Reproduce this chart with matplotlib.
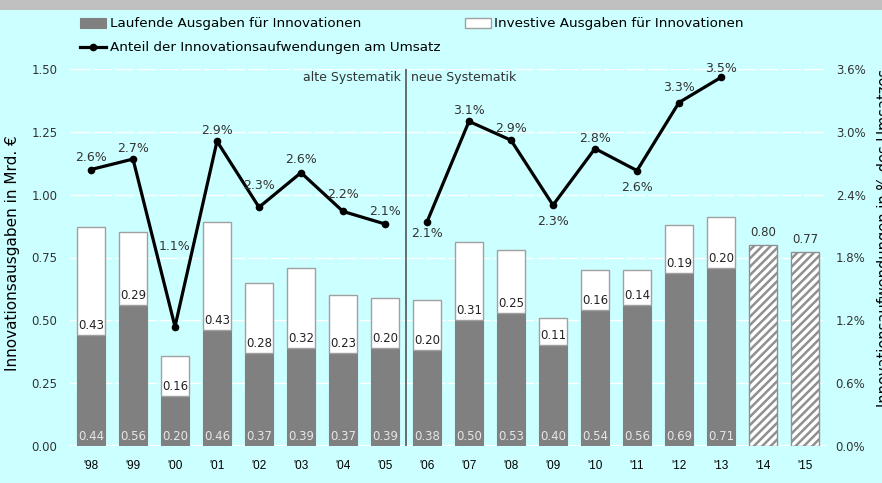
import matplotlib
matplotlib.use("Agg")
import matplotlib.pyplot as plt
from matplotlib.patches import Rectangle
from matplotlib.lines import Line2D
import numpy as np

# Daten
years = ["'98", "'99", "'00", "'01", "'02", "'03", "'04", "'05", "'06",
         "'07", "'08", "'09", "'10", "'11", "'12", "'13", "'14", "'15"]
laufend = [0.44, 0.56, 0.20, 0.46, 0.37, 0.39, 0.37, 0.39,
           0.38, 0.50, 0.53, 0.40, 0.54, 0.56, 0.69, 0.71]
investiv = [0.43, 0.29, 0.16, 0.43, 0.28, 0.32, 0.23, 0.20,
            0.20, 0.31, 0.25, 0.11, 0.16, 0.14, 0.19, 0.20]
plan = [0.80, 0.77]            # '14, '15 geplant (schraffiert)
anteil_alt = [2.64, 2.74, 1.14, 2.91, 2.28, 2.61, 2.24, 2.12]   # '98-'05
anteil_neu = [2.14, 3.10, 2.92, 2.30, 2.84, 2.63, 3.28, 3.52]   # '06-'13

# Beschriftungs-Versatz der %-Werte (Pixel, + = nach unten)
pct_offset = [-12, -11, -80, -11, -22, -13, -17, -12,
              12, -11, -12, 16, -10, 17, -15, -9]

W, H = 882, 483
BG = '#CCFFFF'
GREY = '#808080'
EDGE = '#A0A0A0'
TXT = '#333333'

plt.rcParams['font.family'] = ['DejaVu Sans']
plt.rcParams['hatch.linewidth'] = 1.8

def fx(x):
    return x / W

def fy(y):
    return 1 - y / H

fig = plt.figure(figsize=(W / 100, H / 100), dpi=100)
fig.patch.set_facecolor(BG)
fig.add_artist(Rectangle((0, fy(10)), 1, 10 / H, transform=fig.transFigure,
                         facecolor='#C0C0C0', edgecolor='none'))

ax = fig.add_axes([fx(70), 1 - 446 / H, 756 / W, 377 / H])
ax.set_facecolor(BG)
ax2 = ax.twinx()

n_hist = len(laufend)
x = np.arange(len(years))
xh = x[:n_hist]
bw = 0.69

ax.set_axisbelow(True)
ax.yaxis.grid(True, color='white', lw=1.0, dashes=(14, 2))
ax.bar(xh, laufend, bw, color=GREY, edgecolor=GREY, lw=0.8, zorder=2)
ax.bar(xh, investiv, bw, bottom=laufend, color='white', edgecolor=EDGE, lw=1.0, zorder=2)
ax.bar(x[n_hist:], plan, bw, color='white', edgecolor='#909090', hatch='////', lw=1.0, zorder=2)
ax.axhline(0, color='white', lw=1.5, zorder=1)

for i in range(n_hist):
    ax.text(xh[i], 0.012, f"{laufend[i]:.2f}", ha='center', va='bottom',
            fontsize=8.5, color='#E6E6E6', zorder=3)
    ax.text(xh[i], laufend[i] + 0.012, f"{investiv[i]:.2f}", ha='center', va='bottom',
            fontsize=8.5, color='#222222', zorder=3)
for j, v in enumerate(plan):
    ax.text(x[n_hist + j], v + 0.025, f"{v:.2f}", ha='center', va='bottom',
            fontsize=8.5, color=TXT, zorder=3)

# Trennlinie alte / neue Systematik
ax.axvline(7.5, color='#555555', lw=1.2, zorder=4)
ax.text(7.38, 1.467, "alte Systematik", ha='right', va='center', fontsize=9, color=TXT)
ax.text(7.62, 1.467, "neue Systematik", ha='left', va='center', fontsize=9, color=TXT)

ax.set_xlim(-0.5, len(years) - 0.5)
ax.set_ylim(0, 1.5)
ax.set_yticks(np.arange(0, 1.51, 0.25))
ax.set_yticklabels([f"{t:.2f}" for t in np.arange(0, 1.51, 0.25)])
ax.set_xticks(x)
ax.set_xticklabels(years, fontfamily='Liberation Sans', fontsize=8.5)
ax.tick_params(axis='x', length=0, pad=10, colors='black')
ax.tick_params(axis='y', length=0, pad=9, labelsize=8.5, labelcolor=TXT)

# Anteil am Umsatz
ax2.set_ylim(0, 3.6)
ax2.set_yticks(np.arange(0, 3.61, 0.6))
ax2.set_yticklabels([f"{t:.1f}%" for t in np.arange(0, 3.61, 0.6)])
ax2.tick_params(axis='y', length=0, pad=7, labelsize=8.5, labelcolor=TXT)
ax2.plot(xh[:len(anteil_alt)], anteil_alt, color='black', lw=2.3,
         marker='o', ms=4.5, zorder=5)
ax2.plot(xh[len(anteil_alt):], anteil_neu, color='black', lw=2.3,
         marker='o', ms=4.5, zorder=5)
anteil = anteil_alt + anteil_neu
for i, v in enumerate(anteil):
    ax2.annotate(f"{v:.1f}%", (xh[i], v), xytext=(0, -pct_offset[i] * 0.72),
                 textcoords='offset points', ha='center', va='center',
                 fontsize=9, color=TXT, zorder=6)

for a in (ax, ax2):
    for s in a.spines.values():
        s.set_visible(False)

# Achsentitel (rechter Titel ist im Original am Bildrand angeschnitten)
fig.text(fx(13), fy(253), "Innovationsausgaben in Mrd. €", rotation=90,
         ha='center', va='center', fontsize=11, color='black')
fig.text(fx(877), fy(407), "Innovationsaufwendungen in % des Umsatzes", rotation=90,
         ha='left', va='bottom', fontsize=10.5, color='black')

# Legende
fig.add_artist(Rectangle((fx(80), fy(28)), 26 / W, 10 / H, transform=fig.transFigure,
                         facecolor=GREY, edgecolor=GREY, lw=0.8))
fig.text(fx(110), fy(23), "Laufende Ausgaben für Innovationen", ha='left', va='center',
         fontsize=9.7, color='black')
fig.add_artist(Rectangle((fx(465), fy(28)), 26 / W, 10 / H, transform=fig.transFigure,
                         facecolor='white', edgecolor=EDGE, lw=1.0))
fig.text(fx(494), fy(23), "Investive Ausgaben für Innovationen", ha='left', va='center',
         fontsize=9.7, color='black')
fig.add_artist(Line2D([fx(80), fx(106)], [fy(47), fy(47)], transform=fig.transFigure,
                      color='black', lw=2.3))
fig.add_artist(Line2D([fx(93)], [fy(47)], transform=fig.transFigure,
                      color='black', marker='o', ms=4.5))
fig.text(fx(110), fy(47), "Anteil der Innovationsaufwendungen am Umsatz", ha='left',
         va='center', fontsize=9.7, color='black')

fig.savefig("out.png", dpi=100, facecolor=BG)
